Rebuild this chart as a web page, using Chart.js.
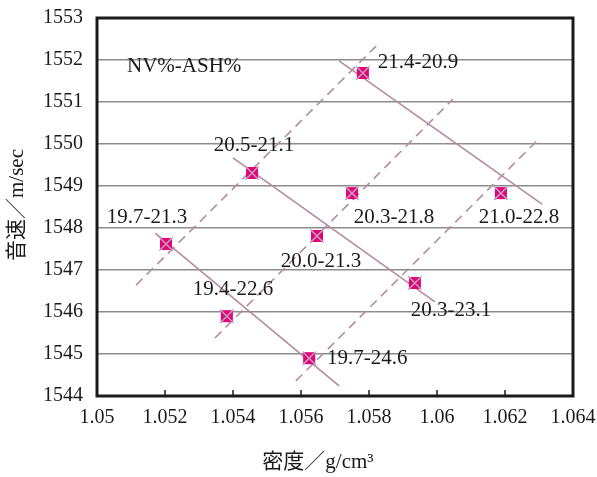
<!DOCTYPE html>
<html>
<head>
<meta charset="utf-8">
<script src="https://cdn.jsdelivr.net/npm/chart.js@4.4.0/dist/chart.umd.min.js"></script>
<style>
    html, body { margin: 0; padding: 0; background: #fff; }
    #wrap { width: 597px; height: 477px; }
</style>
</head>
<body>
<div id="wrap"><canvas id="chart" width="597" height="477"></canvas></div>
<script>
// samples, NV% - ASH%
var sampleNames = ['19.7-21.3', '20.5-21.1', '19.4-22.6', '20.0-21.3', '21.4-20.9', '20.3-21.8', '21.0-22.8', '20.3-23.1', '19.7-24.6'];
// density g/cm3
var densities = [1.05203, 1.05456, 1.05382, 1.05647, 1.05782, 1.05750, 1.06188, 1.05935, 1.05624];
// sound velocity m/sec
var velocities = [1547.62, 1549.31, 1545.90, 1547.81, 1551.69, 1548.83, 1548.83, 1546.69, 1544.90];

var xTicks = [1.05, 1.052, 1.054, 1.056, 1.058, 1.06, 1.062, 1.064];
var yTicks = [1544, 1545, 1546, 1547, 1548, 1549, 1550, 1551, 1552, 1553];

// solid guide lines
var solidStartX = [1.05171, 1.05400, 1.05712];
var solidStartY = [1547.88, 1549.67, 1551.98];
var solidEndX = [1.05712, 1.05994, 1.06309];
var solidEndY = [1544.24, 1546.24, 1548.57];

// dashed guide lines
var dashStartX = [1.05115, 1.05347, 1.05585];
var dashStartY = [1546.64, 1545.38, 1544.36];
var dashEndX = [1.05821, 1.06047, 1.06291];
var dashEndY = [1552.33, 1551.07, 1550.05];

// label offset from marker (px)
var labelOffsets = [[-19, -26], [2, -27], [6, -27], [4, 26], [55, -11], [42, 24], [18, 24], [36, 27], [58, 0]];

var lineColor = '#b58aa0';
var serif = '"Liberation Serif", "Times New Roman", serif';
var titleFont = '21px "Liberation Serif", "Noto Sans CJK JP", serif';

var points = densities.map(function (d, i) {
    return { x: d, y: velocities[i] };
});

var datasets = [
    {
        label: 'cross',
        data: points,
        showLine: false,
        pointStyle: 'crossRot',
        pointRadius: 9.5,
        borderColor: '#bfa6b3',
        borderWidth: 1.5,
        order: 0
    },
    {
        label: 'samples',
        data: points,
        showLine: false,
        pointStyle: 'rect',
        pointRadius: 8.5,
        backgroundColor: '#e4007f',
        borderColor: '#e4007f',
        borderWidth: 0,
        order: 1
    }
];

solidStartX.forEach(function (x, i) {
    datasets.push({
        type: 'line',
        data: [{ x: x, y: solidStartY[i] }, { x: solidEndX[i], y: solidEndY[i] }],
        borderColor: lineColor,
        borderWidth: 1.6,
        pointRadius: 0,
        order: 2
    });
});

dashStartX.forEach(function (x, i) {
    datasets.push({
        type: 'line',
        data: [{ x: x, y: dashStartY[i] }, { x: dashEndX[i], y: dashEndY[i] }],
        borderColor: lineColor,
        borderWidth: 1.6,
        borderDash: [9, 6],
        pointRadius: 0,
        order: 2
    });
});

var decorations = {
    id: 'decorations',
    afterDraw: function (chart) {
        var ctx = chart.ctx;
        var area = chart.chartArea;
        var xs = chart.scales.x;
        var ys = chart.scales.y;
        ctx.save();

        // ticks pointing inward
        ctx.strokeStyle = '#1a1a1a';
        ctx.lineWidth = 1.5;
        xTicks.forEach(function (v) {
            var px = xs.getPixelForValue(v);
            ctx.beginPath();
            ctx.moveTo(px, area.bottom);
            ctx.lineTo(px, area.bottom - 6);
            ctx.stroke();
        });

        // frame
        ctx.lineWidth = 3;
        ctx.strokeRect(area.left, area.top, area.width, area.height);

        // point labels
        ctx.fillStyle = '#1a1a1a';
        ctx.font = '21px ' + serif;
        ctx.textAlign = 'center';
        ctx.textBaseline = 'middle';
        sampleNames.forEach(function (name, i) {
            var px = xs.getPixelForValue(densities[i]);
            var py = ys.getPixelForValue(velocities[i]);
            ctx.fillText(name, px + labelOffsets[i][0], py + labelOffsets[i][1]);
        });

        ctx.font = '21px ' + serif;
        ctx.textAlign = 'left';
        ctx.fillText('NV%-ASH%', area.left + 30, area.top + 48);

        // axis titles
        ctx.font = titleFont;
        ctx.textAlign = 'center';
        ctx.fillText('密度／g/cm³', 318, 462);
        ctx.translate(17, 205);
        ctx.rotate(-Math.PI / 2);
        ctx.fillText('音速／m/sec', 0, 0);

        ctx.restore();
    }
};

var ctx = document.getElementById('chart');
var myChart = new Chart(ctx, {
    type: 'scatter',
    data: { datasets: datasets },
    options: {
        responsive: false,
        animation: false,
        events: [],
        layout: { padding: { top: 18, right: 24, left: 0, bottom: 0 } },
        plugins: {
            legend: { display: false },
            tooltip: { enabled: false },
            title: { display: false }
        },
        scales: {
            x: {
                type: 'linear',
                min: 1.05,
                max: 1.064,
                afterBuildTicks: function (scale) {
                    scale.ticks = xTicks.map(function (v) { return { value: v }; });
                },
                afterFit: function (scale) {
                    scale.height = 81;
                    scale.paddingLeft = 0;
                    scale.paddingRight = 0;
                },
                grid: { display: false, drawTicks: false },
                border: { display: false },
                ticks: {
                    padding: 10,
                    color: '#1a1a1a',
                    font: { family: serif, size: 20 },
                    maxRotation: 0,
                    callback: function (value) { return String(parseFloat(Number(value).toFixed(3))); }
                }
            },
            y: {
                type: 'linear',
                min: 1544,
                max: 1553,
                afterBuildTicks: function (scale) {
                    scale.ticks = yTicks.map(function (v) { return { value: v }; });
                },
                afterFit: function (scale) {
                    scale.width = 97;
                    scale.paddingTop = 0;
                    scale.paddingBottom = 0;
                },
                grid: { color: '#8c8c8c', lineWidth: 1.5, drawTicks: false },
                border: { display: false },
                ticks: {
                    padding: 14,
                    color: '#1a1a1a',
                    font: { family: serif, size: 20 },
                    callback: function (value) { return String(value); }
                }
            }
        }
    },
    plugins: [decorations]
});
</script>
</body>
</html>
